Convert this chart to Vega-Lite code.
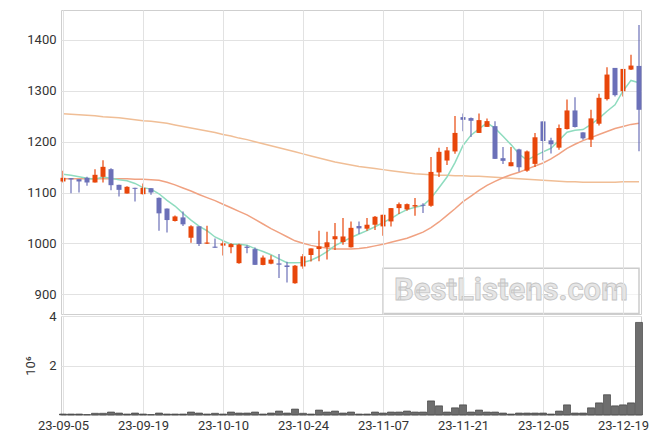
{
  "$schema": "https://vega.github.io/schema/vega-lite/v6.json",
  "padding": {"left": 23, "top": 9, "right": 10, "bottom": 5},
  "background": "white",
  "config": {
    "font": "Roboto",
    "view": {"stroke": "#cfcfcf"},
    "axis": {"labelFont": "Roboto", "labelFontSize": 13, "labelColor": "#333333", "gridColor": "#e2e2e2", "ticks": false, "domain": false, "labelPadding": 5, "titleFont": "Roboto"}
  },
  "data": {"values": [
    {"d":"23-09-05","o":1121.7,"h":1142.6,"l":1119.7,"c":1128.9,"v":0.04,"m5":1136,"m20":1127,"m60":1255},
    {"d":"23-09-06","o":1128.2,"h":1128.2,"l":1098.7,"c":1125.6,"v":0.04,"m5":1134,"m20":1127,"m60":1254},
    {"d":"23-09-07","o":1126.2,"h":1126.2,"l":1100,"c":1121.7,"v":0.04,"m5":1131,"m20":1127,"m60":1253},
    {"d":"23-09-08","o":1128.9,"h":1130.8,"l":1113.1,"c":1119.7,"v":0.02,"m5":1128,"m20":1127,"m60":1252},
    {"d":"23-09-11","o":1119.7,"h":1145.9,"l":1119.7,"c":1134.8,"v":0.07,"m5":1126.1,"m20":1127,"m60":1251},
    {"d":"23-09-12","o":1130.8,"h":1163.6,"l":1119.7,"c":1150.5,"v":0.07,"m5":1130.5,"m20":1127,"m60":1249},
    {"d":"23-09-13","o":1145.9,"h":1147.9,"l":1104.6,"c":1114.4,"v":0.12,"m5":1128.2,"m20":1127,"m60":1248},
    {"d":"23-09-14","o":1115.1,"h":1115.1,"l":1091.9,"c":1105.2,"v":0.08,"m5":1124.9,"m20":1127,"m60":1247},
    {"d":"23-09-15","o":1098,"h":1112.5,"l":1098,"c":1111.2,"v":0.04,"m5":1123.2,"m20":1127,"m60":1245},
    {"d":"23-09-18","o":1109.2,"h":1109.2,"l":1082.3,"c":1107.2,"v":0.08,"m5":1117.8,"m20":1126,"m60":1243},
    {"d":"23-09-19","o":1096.7,"h":1117.7,"l":1096,"c":1109.2,"v":0.04,"m5":1109.6,"m20":1126,"m60":1241},
    {"d":"23-09-20","o":1108.5,"h":1108.5,"l":1095.4,"c":1100,"v":0.02,"m5":1106.7,"m20":1125,"m60":1240},
    {"d":"23-09-21","o":1089.5,"h":1090,"l":1025,"c":1059,"v":0.08,"m5":1097.5,"m20":1124,"m60":1238},
    {"d":"23-09-22","o":1068.4,"h":1068.4,"l":1021.3,"c":1045.8,"v":0.04,"m5":1084.4,"m20":1120,"m60":1236},
    {"d":"23-09-25","o":1043.9,"h":1054.8,"l":1043,"c":1052.9,"v":0.04,"m5":1073.4,"m20":1115,"m60":1233},
    {"d":"23-09-26","o":1051,"h":1062.6,"l":1034.2,"c":1037.4,"v":0.04,"m5":1059,"m20":1109,"m60":1230},
    {"d":"23-09-27","o":1011,"h":1035.5,"l":1001.3,"c":1033.5,"v":0.12,"m5":1045.7,"m20":1103,"m60":1227},
    {"d":"23-10-04","o":1033.5,"h":1033.5,"l":994.8,"c":998.7,"v":0.08,"m5":1033.7,"m20":1096,"m60":1224},
    {"d":"23-10-05","o":999.4,"h":1034.8,"l":998.7,"c":1001.6,"v":0.04,"m5":1024.8,"m20":1090,"m60":1221},
    {"d":"23-10-06","o":993.5,"h":1009.7,"l":991.3,"c":991.3,"v":0.07,"m5":1012.5,"m20":1084,"m60":1218},
    {"d":"23-10-10","o":995.5,"h":1004,"l":976,"c":1000,"v":0.04,"m5":1005,"m20":1077,"m60":1214},
    {"d":"23-10-11","o":992.5,"h":1000,"l":980.6,"c":998.5,"v":0.12,"m5":998.3,"m20":1070,"m60":1211},
    {"d":"23-10-12","o":961,"h":999,"l":960,"c":997.5,"v":0.08,"m5":998.2,"m20":1063,"m60":1207},
    {"d":"23-10-13","o":993.5,"h":996,"l":980.6,"c":991,"v":0.08,"m5":996.4,"m20":1056,"m60":1204},
    {"d":"23-10-16","o":988.6,"h":992,"l":957.3,"c":957.7,"v":0.12,"m5":989.5,"m20":1047,"m60":1200},
    {"d":"23-10-17","o":957.5,"h":976,"l":957,"c":972,"v":0.04,"m5":983.9,"m20":1038,"m60":1196},
    {"d":"23-10-18","o":960,"h":976.7,"l":959,"c":968,"v":0.08,"m5":977.5,"m20":1029,"m60":1192},
    {"d":"23-10-19","o":960.5,"h":979,"l":932,"c":958,"v":0.16,"m5":969.5,"m20":1021,"m60":1188},
    {"d":"23-10-20","o":956.5,"h":964,"l":923,"c":953.5,"v":0.08,"m5":961.9,"m20":1013,"m60":1184},
    {"d":"23-10-23","o":921.5,"h":957.3,"l":920.5,"c":956,"v":0.24,"m5":961.7,"m20":1005,"m60":1180},
    {"d":"23-10-24","o":954.5,"h":979,"l":950,"c":974.5,"v":0.07,"m5":962.3,"m20":1000,"m60":1176},
    {"d":"23-10-25","o":977,"h":990,"l":964.5,"c":990,"v":0.04,"m5":966.7,"m20":996,"m60":1172},
    {"d":"23-10-26","o":988.8,"h":1025,"l":964.7,"c":994,"v":0.2,"m5":974,"m20":993,"m60":1168},
    {"d":"23-10-27","o":992.5,"h":1023,"l":968,"c":1002,"v":0.12,"m5":983.8,"m20":991,"m60":1164},
    {"d":"23-10-30","o":1008,"h":1040,"l":987,"c":1014,"v":0.16,"m5":995.4,"m20":989,"m60":1160},
    {"d":"23-10-31","o":1002.5,"h":1050,"l":997,"c":1013.5,"v":0.08,"m5":1003.4,"m20":989,"m60":1157},
    {"d":"23-11-01","o":992.2,"h":1043,"l":992,"c":1030.5,"v":0.12,"m5":1011.4,"m20":989,"m60":1154},
    {"d":"23-11-02","o":1034,"h":1043,"l":1018.3,"c":1029.4,"v":0.04,"m5":1018.3,"m20":990,"m60":1151},
    {"d":"23-11-03","o":1028.8,"h":1049.7,"l":1024.8,"c":1036.6,"v":0.04,"m5":1025.1,"m20":992,"m60":1149},
    {"d":"23-11-06","o":1036.6,"h":1053.6,"l":1026.1,"c":1052.3,"v":0.12,"m5":1032.6,"m20":995,"m60":1147},
    {"d":"23-11-07","o":1033.3,"h":1056.2,"l":1015,"c":1056.2,"v":0.08,"m5":1040.9,"m20":998,"m60":1145},
    {"d":"23-11-08","o":1043.1,"h":1069.3,"l":1033.3,"c":1069.3,"v":0.12,"m5":1048.8,"m20":1002,"m60":1143},
    {"d":"23-11-09","o":1069.3,"h":1080.4,"l":1057.5,"c":1077.1,"v":0.12,"m5":1058.3,"m20":1006,"m60":1141},
    {"d":"23-11-10","o":1066.7,"h":1078.4,"l":1064.1,"c":1077.1,"v":0.16,"m5":1066.4,"m20":1010,"m60":1139},
    {"d":"23-11-13","o":1072.5,"h":1089,"l":1054.2,"c":1075.2,"v":0.12,"m5":1071,"m20":1016,"m60":1137},
    {"d":"23-11-14","o":1075.8,"h":1079.1,"l":1059.5,"c":1073.9,"v":0.12,"m5":1074.5,"m20":1022,"m60":1136},
    {"d":"23-11-15","o":1073.9,"h":1169.9,"l":1071.9,"c":1140.5,"v":0.57,"m5":1088.8,"m20":1031,"m60":1135},
    {"d":"23-11-16","o":1139.5,"h":1188.2,"l":1130.7,"c":1180,"v":0.37,"m5":1109.3,"m20":1042,"m60":1134},
    {"d":"23-11-17","o":1162.9,"h":1189.4,"l":1154.3,"c":1182.8,"v":0.12,"m5":1130.4,"m20":1055,"m60":1134},
    {"d":"23-11-20","o":1180.8,"h":1250.3,"l":1176,"c":1217.2,"v":0.29,"m5":1158.8,"m20":1068,"m60":1133},
    {"d":"23-11-21","o":1248.3,"h":1255.6,"l":1220.5,"c":1243,"v":0.41,"m5":1192.6,"m20":1082,"m60":1133},
    {"d":"23-11-22","o":1246.4,"h":1247.7,"l":1209.3,"c":1241.1,"v":0.12,"m5":1212.8,"m20":1093,"m60":1132},
    {"d":"23-11-23","o":1217.2,"h":1255.6,"l":1217.2,"c":1242.4,"v":0.2,"m5":1225.3,"m20":1104,"m60":1132},
    {"d":"23-11-24","o":1229.1,"h":1245.7,"l":1229,"c":1240.4,"v":0.12,"m5":1236.8,"m20":1114,"m60":1131},
    {"d":"23-11-27","o":1230.5,"h":1240.4,"l":1166,"c":1166.2,"v":0.12,"m5":1226.6,"m20":1122,"m60":1130},
    {"d":"23-11-28","o":1167.5,"h":1189.4,"l":1156.3,"c":1162.3,"v":0.08,"m5":1210.5,"m20":1129,"m60":1129},
    {"d":"23-11-29","o":1151.7,"h":1189.4,"l":1151.7,"c":1159.6,"v":0.04,"m5":1194.2,"m20":1135,"m60":1128},
    {"d":"23-11-30","o":1184.8,"h":1186.1,"l":1141,"c":1149.7,"v":0.08,"m5":1175.6,"m20":1140,"m60":1127},
    {"d":"23-12-01","o":1143,"h":1182.8,"l":1141,"c":1180.8,"v":0.08,"m5":1163.7,"m20":1146,"m60":1126},
    {"d":"23-12-04","o":1156.3,"h":1217.2,"l":1150,"c":1208.6,"v":0.08,"m5":1172.2,"m20":1152,"m60":1125},
    {"d":"23-12-05","o":1239.9,"h":1239.9,"l":1163.4,"c":1201.3,"v":0.08,"m5":1180,"m20":1158,"m60":1124},
    {"d":"23-12-06","o":1202.6,"h":1207.8,"l":1176.5,"c":1194.8,"v":0.04,"m5":1187,"m20":1166,"m60":1123},
    {"d":"23-12-07","o":1188.2,"h":1234,"l":1184.3,"c":1226.8,"v":0.16,"m5":1202.5,"m20":1176,"m60":1122},
    {"d":"23-12-08","o":1224.8,"h":1283,"l":1224,"c":1261.4,"v":0.41,"m5":1218.6,"m20":1187,"m60":1121},
    {"d":"23-12-11","o":1261.4,"h":1287.6,"l":1228,"c":1228.8,"v":0.08,"m5":1222.6,"m20":1195,"m60":1121},
    {"d":"23-12-12","o":1218.3,"h":1218.3,"l":1204,"c":1206.5,"v":0.08,"m5":1223.7,"m20":1202,"m60":1120},
    {"d":"23-12-13","o":1203.9,"h":1262.7,"l":1189.5,"c":1245.8,"v":0.29,"m5":1233.9,"m20":1208,"m60":1120},
    {"d":"23-12-14","o":1235.3,"h":1294.1,"l":1232,"c":1286.3,"v":0.49,"m5":1245.8,"m20":1214,"m60":1120},
    {"d":"23-12-15","o":1283.7,"h":1346.4,"l":1281,"c":1332,"v":0.82,"m5":1259.9,"m20":1220,"m60":1120},
    {"d":"23-12-18","o":1345.1,"h":1345.1,"l":1289,"c":1291.5,"v":0.37,"m5":1272.4,"m20":1226,"m60":1120},
    {"d":"23-12-19","o":1299.3,"h":1343.1,"l":1289,"c":1343.1,"v":0.41,"m5":1299.7,"m20":1230,"m60":1121},
    {"d":"23-12-20","o":1341.8,"h":1371.2,"l":1341,"c":1349.7,"v":0.49,"m5":1320.5,"m20":1234,"m60":1121},
    {"d":"23-12-21","o":1349,"h":1429.4,"l":1181,"c":1262.7,"v":3.74,"m5":1315.8,"m20":1236,"m60":1121}
  ]},
  "spacing": 2,
  "bounds": "flush",
  "vconcat": [
    {
      "width": 580,
      "height": 304,
      "encoding": {
        "x": {"field": "d", "type": "ordinal", "scale": {"type": "point", "padding": 0.25},
              "axis": {"values": ["23-09-05","23-09-19","23-10-10","23-10-24","23-11-07","23-11-21","23-12-05","23-12-19"], "labels": false, "title": null, "grid": true}}
      },
      "layer": [
        {
          "data": {"values": [{}]},
          "mark": {"type": "rect", "fill": "#ffffff", "fillOpacity": 0.6, "stroke": "#cccccc", "strokeWidth": 1.5},
          "encoding": {
            "x": {"datum": "23-11-07", "type": "ordinal"},
            "x2": {"datum": "23-12-21"},
            "y": {"datum": 951, "type": "quantitative", "scale": {"domain": [861, 1459], "nice": false, "zero": false}},
            "y2": {"datum": 862}
          }
        },
        {
          "data": {"values": [{}]},
          "mark": {"type": "text", "text": "BestListens.com", "font": "Roboto", "fontSize": 31, "fontWeight": "bold", "fill": "#e6e6e6", "stroke": "#c4c4c4", "strokeWidth": 0.8, "align": "center", "baseline": "middle"},
          "encoding": {
            "x": {"datum": "23-11-29", "type": "ordinal"},
            "y": {"datum": 906, "type": "quantitative", "scale": {"domain": [861, 1459], "nice": false, "zero": false}}
          }
        },
        {
          "mark": {"type": "line", "color": "#f0be96", "strokeWidth": 1.5},
          "encoding": {
            "y": {"field": "m60", "type": "quantitative", "scale": {"domain": [861, 1459], "nice": false, "zero": false},
                  "axis": {"values": [900, 1000, 1100, 1200, 1300, 1400], "format": "d", "title": null, "grid": true, "minExtent": 35, "maxExtent": 35}}
          }
        },
        {
          "mark": {"type": "line", "color": "#f0a282", "strokeWidth": 1.5},
          "encoding": {
            "y": {"field": "m20", "type": "quantitative", "scale": {"domain": [861, 1459], "nice": false, "zero": false}}
          }
        },
        {
          "mark": {"type": "line", "color": "#8fdcbf", "strokeWidth": 1.5},
          "encoding": {
            "y": {"field": "m5", "type": "quantitative", "scale": {"domain": [861, 1459], "nice": false, "zero": false}}
          }
        },
        {
          "mark": {"type": "rule", "strokeWidth": 1.2},
          "encoding": {
            "y": {"field": "l", "type": "quantitative", "scale": {"domain": [861, 1459], "nice": false, "zero": false}},
            "y2": {"field": "h"},
            "color": {"condition": {"test": "datum.c >= datum.o", "value": "#e8460a"}, "value": "#6b70b8"}
          }
        },
        {
          "mark": {"type": "bar", "size": 5},
          "encoding": {
            "y": {"field": "o", "type": "quantitative", "scale": {"domain": [861, 1459], "nice": false, "zero": false}},
            "y2": {"field": "c"},
            "color": {"condition": {"test": "datum.c >= datum.o", "value": "#e8460a"}, "value": "#6b70b8"}
          }
        }
      ]
    },
    {
      "width": 580,
      "height": 99,
      "mark": {"type": "bar", "size": 7, "fill": "#6e6e6e", "stroke": "#333333", "strokeWidth": 0.6},
      "encoding": {
        "x": {"field": "d", "type": "ordinal", "scale": {"type": "point", "padding": 0.25},
              "axis": {"values": ["23-09-05","23-09-19","23-10-10","23-10-24","23-11-07","23-11-21","23-12-05","23-12-19"], "title": null, "labelAngle": 0, "labelOverlap": false, "grid": true, "labelPadding": 4}},
        "y": {"field": "v", "type": "quantitative", "scale": {"domain": [0, 4], "nice": false},
              "axis": {"values": [2, 4], "title": "10⁶", "titleFontWeight": "normal", "titleFontSize": 13, "titleColor": "#333333", "titlePadding": 4, "grid": true, "minExtent": 20, "maxExtent": 20}}
      }
    }
  ]
}
